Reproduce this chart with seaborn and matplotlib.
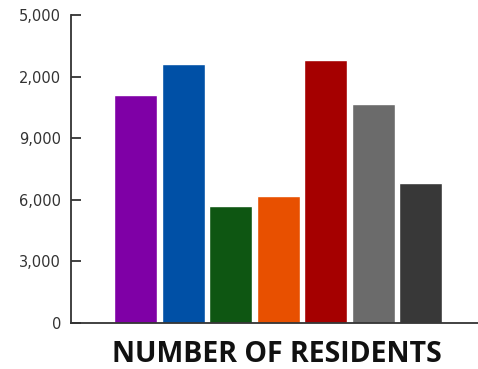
import matplotlib
matplotlib.use("Agg")
import matplotlib.pyplot as plt
import seaborn as sns
import pandas as pd

# bar values (axis runs 0 .. 15,000)
groups = ["A", "B", "C", "D", "E", "F", "G"]
residents = [11100, 12600, 5700, 6200, 12800, 10650, 6800]
bar_colors = ["#7f00a6", "#0050a6", "#0e5612", "#e85000", "#a50000", "#6b6b6b", "#383838"]

# tick labels exactly as printed on the chart
ytick_values = [0, 3000, 6000, 9000, 12000, 15000]
ytick_labels = ["0", "3,000", "6,000", "9,000", "2,000", "5,000"]

df = pd.DataFrame({"group": groups, "residents": residents})

sns.set_style("white")
plt.rcParams["font.family"] = ["DejaVu Sans"]

fig = plt.figure(figsize=(4.78, 3.69), dpi=100)
ax = fig.add_axes([0.1485, 0.1247, 0.8515, 0.8347])

sns.barplot(data=df, x="group", y="residents", hue="group", palette=bar_colors,
            width=0.9, legend=False, saturation=1, ax=ax)

ax.set_xlim(-1.364, 7.206)
ax.set_ylim(0, 15000)
ax.set_yticks(ytick_values)
ax.set_yticklabels(ytick_labels)
ax.set_xticks([])
ax.set_ylabel("")

for s in ["top", "right"]:
    ax.spines[s].set_visible(False)
for s in ["left", "bottom"]:
    ax.spines[s].set_color("#333333")
    ax.spines[s].set_linewidth(1.3)

ax.tick_params(axis="y", direction="in", length=7.5, width=1.3, color="#333333",
               labelsize=10.5, labelcolor="#333333", pad=7, left=True)

ax.set_xlabel("NUMBER OF RESIDENTS", fontsize=20.5, fontweight="bold",
              family=["Open Sans", "DejaVu Sans"], color="#111111")
ax.xaxis.set_label_coords(0.507, -0.1257)
ax.xaxis.label.set_va("baseline")

fig.savefig("out.png", dpi=100)
